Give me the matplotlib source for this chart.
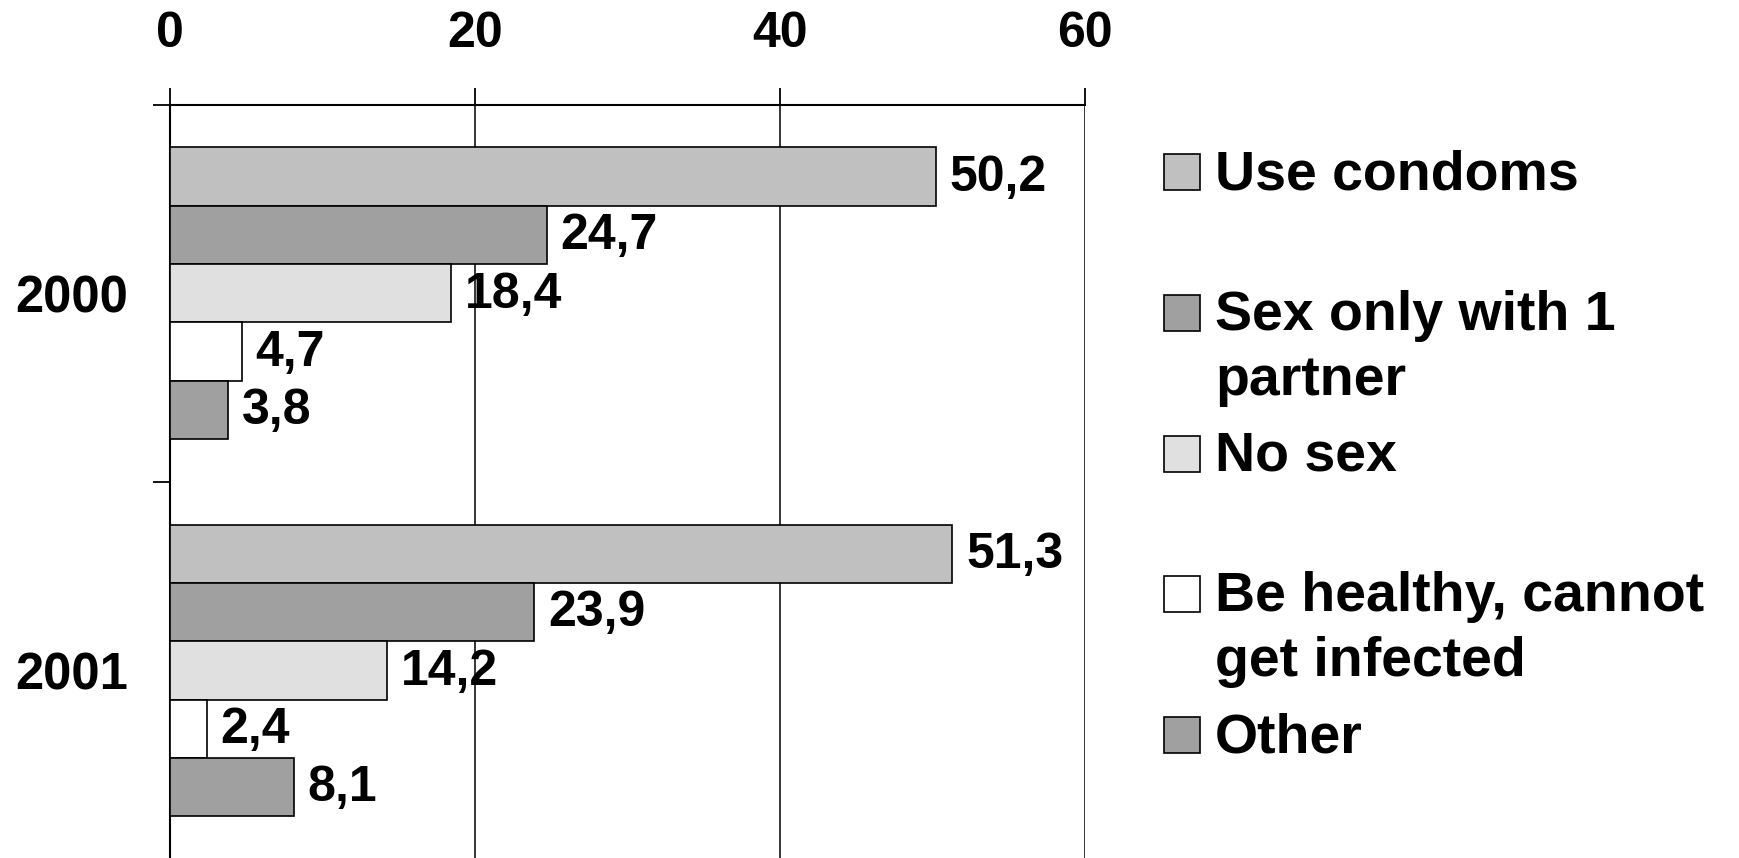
import matplotlib
matplotlib.use("Agg")
import matplotlib.pyplot as plt
from matplotlib.patches import Rectangle
import numpy as np

# ---- data ----
years = ["2000", "2001"]
series_names = ["Use condoms", "Sex only with 1\npartner", "No sex",
                "Be healthy, cannot\nget infected", "Other"]
use_condoms = [50.2, 51.3]
sex_one_partner = [24.7, 23.9]
no_sex = [18.4, 14.2]
be_healthy = [4.7, 2.4]
other = [3.8, 8.1]
series_values = [use_condoms, sex_one_partner, no_sex, be_healthy, other]
series_colors = ["#C0C0C0", "#A0A0A0", "#E0E0E0", "#FFFFFF", "#A0A0A0"]
x_ticks = [0, 20, 40, 60]

plt.rcParams['font.family'] = ['Liberation Sans', 'DejaVu Sans']
plt.rcParams['font.weight'] = 'bold'

W, H = 1739, 858
fig = plt.figure(figsize=(W / 100, H / 100), dpi=100)

# axes placement in pixels
ax_left, ax_right, ax_top, ax_bottom = 170, 1085, 104.5, 859
ax = fig.add_axes([ax_left / W, 1 - ax_bottom / H,
                   (ax_right - ax_left) / W, (ax_bottom - ax_top) / H])

n = len(series_values)
bh = 0.1545
ypos = np.arange(len(years))
for i, (vals, col) in enumerate(zip(series_values, series_colors)):
    y = ypos + (i - (n - 1) / 2) * bh
    bars = ax.barh(y, vals, height=bh, color=col, edgecolor='black',
                   linewidth=1.2, zorder=3)
    for b, v in zip(bars, vals):
        ax.annotate(f"{v:.1f}".replace('.', ','),
                    xy=(b.get_width(), b.get_y() + b.get_height() / 2),
                    xytext=(10, -1), textcoords='offset points',
                    ha='left', va='center', fontsize=36, fontweight='bold',
                    zorder=4)

ax.set_xlim(0, 60)
ax.set_ylim(len(years) - 0.5, -0.5)

ax.xaxis.tick_top()
ax.set_xticks(x_ticks)
ax.set_xticklabels([str(t) for t in x_ticks], fontsize=36, fontweight='bold')
ax.tick_params(axis='x', which='major', direction='out', length=12,
               width=1.3, pad=22, top=True, bottom=False)
ax.grid(axis='x', color='black', linewidth=1.1, zorder=0)

ax.set_yticks(ypos)
ax.set_yticklabels(years, fontsize=36.5, fontweight='bold')
ax.tick_params(axis='y', which='major', length=0, pad=30)
ax.set_yticks(np.arange(len(years) + 1) - 0.5, minor=True)
ax.tick_params(axis='y', which='minor', direction='out', length=12, width=1.3)

for s in ['right', 'bottom']:
    ax.spines[s].set_visible(False)
for s in ['top', 'left']:
    ax.spines[s].set_linewidth(1.5)

# ---- legend (manual, PowerPoint-style equal slots) ----
leg_sq_left = 1164
leg_sq = 36
leg_text_left = 1215
leg_first = 172
leg_step = 140.8
line_step = 65
for i, (name, col) in enumerate(zip(series_names, series_colors)):
    cy = leg_first + i * leg_step
    fig.patches.append(Rectangle((leg_sq_left / W, 1 - (cy + leg_sq / 2) / H),
                                 leg_sq / W, leg_sq / H,
                                 transform=fig.transFigure, facecolor=col,
                                 edgecolor='black', linewidth=1.2))
    for k, line in enumerate(name.split("\n")):
        fig.text(leg_text_left / W, 1 - (cy + 3 + k * line_step) / H, line,
                 ha='left', va='center', fontsize=40, fontweight='bold')

fig.savefig("out.png", dpi=100)
